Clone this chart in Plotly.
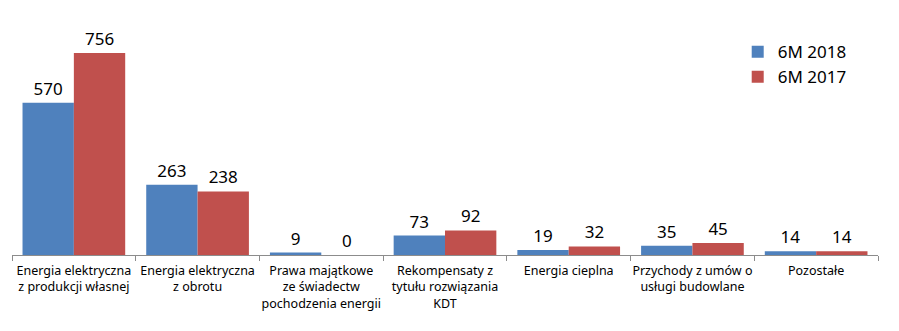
import plotly.graph_objects as go

categories = [
    "Energia elektryczna<br>z produkcji własnej",
    "Energia elektryczna<br>z obrotu",
    "Prawa majątkowe<br>ze świadectw<br>pochodzenia energii",
    "Rekompensaty z<br>tytułu rozwiązania<br>KDT",
    "Energia cieplna",
    "Przychody z umów o<br>usługi budowlane",
    "Pozostałe",
]
series_2018 = [570, 263, 9, 73, 19, 35, 14]
series_2017 = [756, 238, 0, 92, 32, 45, 14]

fig = go.Figure()
fig.add_trace(go.Bar(
    name="6M 2018", x=categories, y=series_2018,
    marker=dict(color="#4F81BD", line=dict(width=0)),
    text=[str(v) for v in series_2018], textposition="outside",
    textfont=dict(size=17, color="#000000"), cliponaxis=False,
))
fig.add_trace(go.Bar(
    name="6M 2017", x=categories, y=series_2017,
    marker=dict(color="#C0504D", line=dict(width=0)),
    text=[str(v) for v in series_2017], textposition="outside",
    textfont=dict(size=17, color="#000000"), cliponaxis=False,
))

fig.update_layout(
    width=899, height=331,
    margin=dict(l=12, r=21, t=20, b=76),
    paper_bgcolor="white", plot_bgcolor="white",
    font=dict(family="Noto Sans, DejaVu Sans, sans-serif", color="#000000"),
    barmode="group", bargap=0.17, bargroupgap=0,
    showlegend=True,
    legend=dict(x=0.838, y=0.94, xanchor="left", yanchor="top",
                font=dict(size=17), bgcolor="rgba(0,0,0,0)",
                itemwidth=30, tracegroupgap=4),
)
fig.update_xaxes(
    showline=True, linecolor="#8C8C8C", linewidth=1,
    ticks="outside", tickson="boundaries", ticklen=5, tickcolor="#8C8C8C",
    tickfont=dict(size=12.5), showgrid=False, tickangle=0,
    ticklabelstandoff=4,
)
fig.update_yaxes(
    range=[0, 880], visible=False, showgrid=False, zeroline=False,
)

fig.write_html("out.html")
